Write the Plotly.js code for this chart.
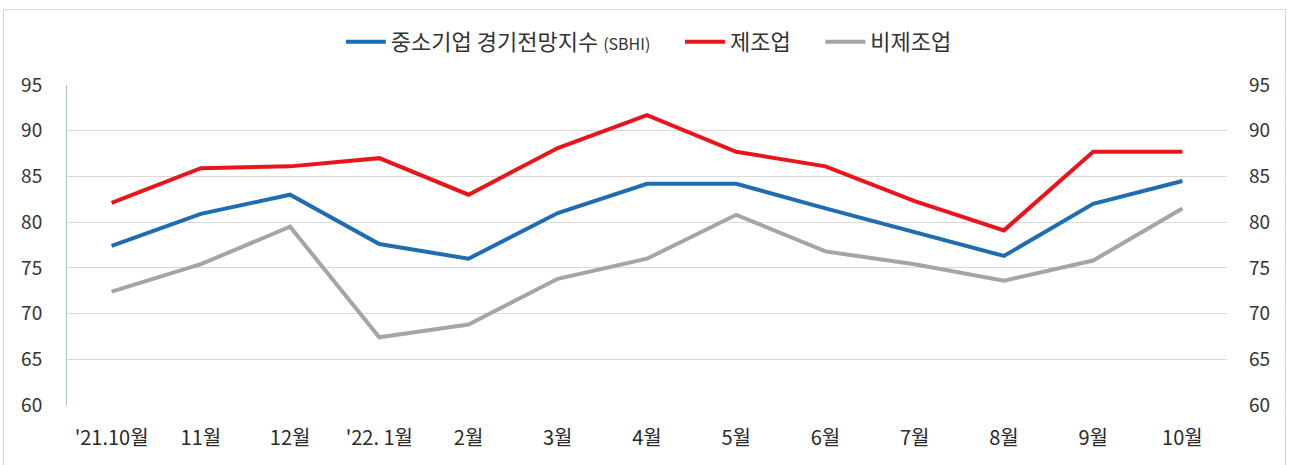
<!DOCTYPE html>
<html>
<head>
<meta charset="utf-8">
<script src="https://cdn.plot.ly/plotly-3.0.1.min.js"></script>
<style>
  html, body { margin: 0; padding: 0; background: #ffffff; }
  #wrap { position: relative; width: 1290px; height: 465px; overflow: hidden; }
  #chart { position: absolute; left: 0; top: 0; width: 1290px; height: 465px; }
  #frame { position: absolute; left: 3px; top: 9px; width: 1283px; height: 470px;
           border: 1px solid #d9d9d9; pointer-events: none; box-sizing: border-box; }
</style>
</head>
<body>
<div id="wrap">
  <div id="chart"></div>
  <div id="frame"></div>
</div>
<script>
const categories = ["'21.10월", "11월", "12월", "'22. 1월", "2월", "3월", "4월", "5월", "6월", "7월", "8월", "9월", "10월"];
const sbhi       = [77.4, 80.9, 83.0, 77.6, 76.0, 81.0, 84.2, 84.2, 81.5, 78.9, 76.3, 82.0, 84.5];
const manufacturing    = [82.1, 85.9, 86.1, 87.0, 83.0, 88.1, 91.7, 87.7, 86.1, 82.3, 79.1, 87.7, 87.7];
const nonManufacturing = [72.4, 75.4, 79.5, 67.4, 68.8, 73.8, 76.0, 80.8, 76.8, 75.4, 73.6, 75.8, 81.5];
const seriesNames = ['중소기업 경기전망지수 <span style="font-size:16px">(SBHI)</span>', '제조업', '비제조업'];
const yTicks = [60, 65, 70, 75, 80, 85, 90, 95];

const FONT = '"Noto Sans CJK KR", "Noto Sans", sans-serif';
const x = categories.map((_, i) => i);
const GAP = '&nbsp;&nbsp;&nbsp;&nbsp;&nbsp;';

const traces = [
  { x: x, y: sbhi, name: seriesNames[0] + GAP, type: 'scatter', mode: 'lines',
    line: { color: '#1f6db1', width: 4 } },
  { x: x, y: manufacturing, name: seriesNames[1] + GAP, type: 'scatter', mode: 'lines',
    line: { color: '#e8161b', width: 4 } },
  { x: x, y: nonManufacturing, name: seriesNames[2], type: 'scatter', mode: 'lines',
    line: { color: '#a5a5a5', width: 4 } },
  { x: x, y: sbhi, yaxis: 'y2', type: 'scatter', mode: 'lines', showlegend: false,
    hoverinfo: 'skip', line: { color: 'rgba(0,0,0,0)', width: 0 } }
];

const layout = {
  width: 1290, height: 465,
  margin: { l: 67, r: 63, t: 85, b: 60, pad: 0 },
  paper_bgcolor: '#ffffff', plot_bgcolor: '#ffffff',
  font: { family: FONT, size: 19, color: '#333333' },
  showlegend: true,
  legend: {
    orientation: 'h', xref: 'container', yref: 'container',
    x: 0.503, xanchor: 'center', y: 1 - 42 / 465, yanchor: 'middle',
    font: { family: FONT, size: 22, color: '#333333' },
    itemwidth: 40, tracegroupgap: 0, bgcolor: 'rgba(0,0,0,0)'
  },
  xaxis: {
    type: 'linear', range: [-0.5, categories.length - 0.5],
    tickmode: 'array', tickvals: x, ticktext: categories,
    showgrid: false, zeroline: false, showline: false, ticks: '',
    ticklabelstandoff: 19,
    tickfont: { family: FONT, size: 20, color: '#2a2a2a' }
  },
  yaxis: {
    range: [60, 95], tickmode: 'array', tickvals: yTicks,
    showgrid: true, gridcolor: '#d9d9d9', gridwidth: 1,
    zeroline: false, showline: true, linecolor: '#a9bfd6', linewidth: 1,
    ticks: '', ticklabelstandoff: 20,
    tickfont: { family: FONT, size: 19, color: '#333333' }
  },
  yaxis2: {
    range: [60, 95], overlaying: 'y', side: 'right', tickmode: 'array', tickvals: yTicks,
    showgrid: false, zeroline: false, showline: false, ticks: '',
    ticklabelstandoff: 21,
    tickfont: { family: FONT, size: 19, color: '#333333' }
  },
  hovermode: false
};

Plotly.newPlot('chart', traces, layout, { staticPlot: true, displayModeBar: false });
</script>
</body>
</html>
